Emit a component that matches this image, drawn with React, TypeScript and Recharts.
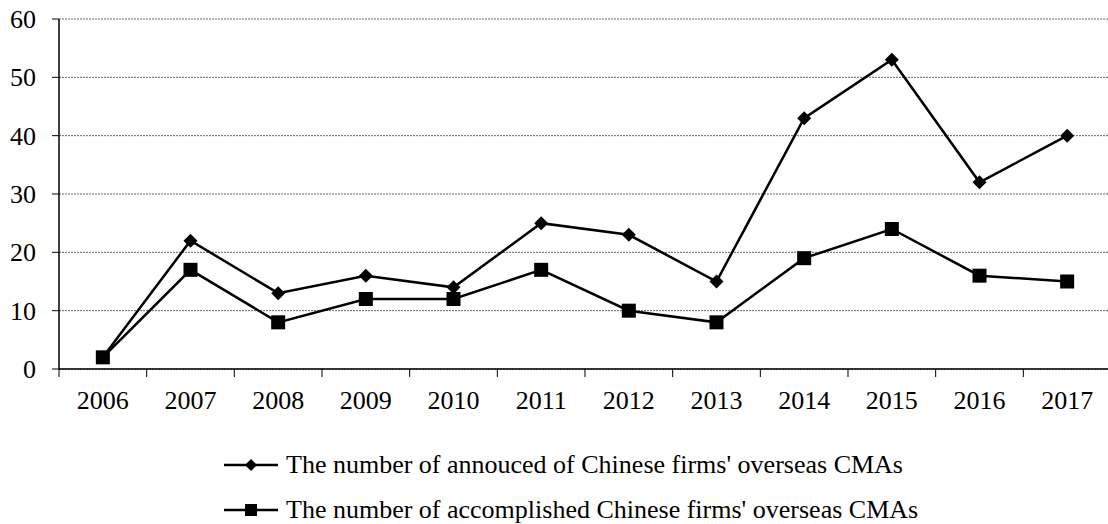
import React from 'react';
import { LineChart, Line, XAxis, YAxis, CartesianGrid, Legend } from 'recharts';

const years = ['2006', '2007', '2008', '2009', '2010', '2011', '2012', '2013', '2014', '2015', '2016', '2017'];
const announced = [2, 22, 13, 16, 14, 25, 23, 15, 43, 53, 32, 40];
const accomplished = [2, 17, 8, 12, 12, 17, 10, 8, 19, 24, 16, 15];
const yTicks = [0, 10, 20, 30, 40, 50, 60];
const seriesNames = [
  "The number of annouced of Chinese firms' overseas CMAs",
  "The number of accomplished Chinese firms' overseas CMAs",
];

const data = years.map((y, i) => ({ year: y, announced: announced[i], accomplished: accomplished[i] }));

const FONT = '"Liberation Serif", "Times New Roman", serif';
const STEP = 87.67;

const XTick = (props: any) => {
  const { x, y, payload, index } = props;
  return (
    <g>
      <line x1={x - STEP / 2} x2={x - STEP / 2} y1={y} y2={y + 8} stroke="#000" strokeWidth={1} />
      {index === years.length - 1 && (
        <line x1={x + STEP / 2} x2={x + STEP / 2} y1={y} y2={y + 8} stroke="#000" strokeWidth={1} />
      )}
      <text x={x} y={y + 40} textAnchor="middle" fontSize={26} fontFamily={FONT} fill="#000">
        {payload.value}
      </text>
    </g>
  );
};

const YTick = (props: any) => {
  const { y, payload } = props;
  return (
    <text x={36} y={y} dy="0.34em" textAnchor="end" fontSize={26} fontFamily={FONT} fill="#000">
      {payload.value}
    </text>
  );
};

const Diamond = (props: any) => {
  const { cx, cy, index } = props;
  if (cx == null || cy == null) return null;
  const s = 7;
  return (
    <path key={`d${index}`} d={`M${cx},${cy - s}L${cx + s},${cy}L${cx},${cy + s}L${cx - s},${cy}Z`} fill="#000" stroke="none" />
  );
};

const Square = (props: any) => {
  const { cx, cy, index } = props;
  if (cx == null || cy == null) return null;
  const s = 7;
  return <rect key={`s${index}`} x={cx - s} y={cy - s} width={2 * s} height={2 * s} fill="#000" />;
};

const LegendContent = () => (
  <div style={{ fontFamily: FONT, fontSize: 26, color: '#000' }}>
    {seriesNames.map((name, i) => (
      <div key={name} style={{ position: 'absolute', left: 224, top: i === 0 ? 0 : 45, height: 26, display: 'flex', alignItems: 'center', whiteSpace: 'nowrap', lineHeight: '26px' }}>
        <svg width={62} height={26} style={{ display: 'block' }}>
          <line x1={0} x2={54} y1={13} y2={13} stroke="#000" strokeWidth={2.5} />
          {i === 0 ? (
            <path d="M27,7L33,13L27,19L21,13Z" fill="#000" />
          ) : (
            <rect x={21} y={7} width={12} height={12} fill="#000" />
          )}
        </svg>
        <span>{name}</span>
      </div>
    ))}
  </div>
);

export default function App() {
  return (
    <div style={{ position: 'absolute', left: 0, top: 0, width: 1108, height: 524, overflow: 'hidden', background: '#fff' }}>
      <LineChart width={1112} height={524} data={data} margin={{ top: 19, right: 1, left: 0, bottom: 115 }}>
        <CartesianGrid horizontal vertical={false} stroke="#666" strokeDasharray="2 1" />
        <XAxis
          dataKey="year"
          height={40}
          padding={{ left: STEP / 2, right: STEP / 2 }}
          tickLine={false}
          tickSize={0}
          tickMargin={0}
          axisLine={{ stroke: '#000', strokeWidth: 1.5 }}
          tick={<XTick />}
          interval={0}
        />
        <YAxis
          width={59}
          domain={[0, 60]}
          ticks={yTicks}
          tickSize={7}
          axisLine={{ stroke: '#000', strokeWidth: 1.5 }}
          tickLine={{ stroke: '#000' }}
          tick={<YTick />}
          interval={0}
        />
        <Legend
          layout="vertical"
          verticalAlign="middle"
          align="center"
          wrapperStyle={{ top: 452, left: 0, width: 1108, height: 71 }}
          content={<LegendContent />}
        />
        <Line dataKey="announced" name={seriesNames[0]} stroke="#000" strokeWidth={2.5} dot={<Diamond />} activeDot={false} isAnimationActive={false} />
        <Line dataKey="accomplished" name={seriesNames[1]} stroke="#000" strokeWidth={2.5} dot={<Square />} activeDot={false} isAnimationActive={false} />
      </LineChart>
    </div>
  );
}
